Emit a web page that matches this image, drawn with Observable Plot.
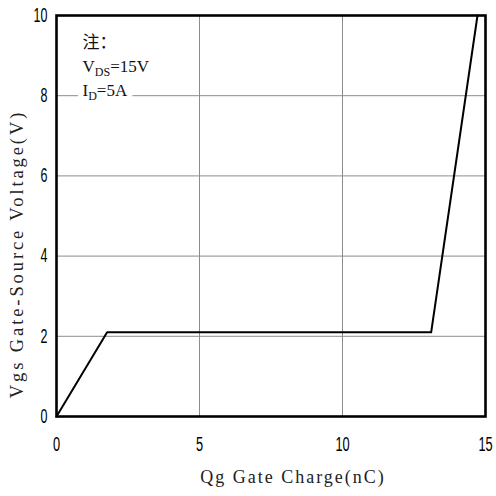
<!DOCTYPE html>
<html>
<head>
<meta charset="utf-8">
<script src="https://cdn.jsdelivr.net/npm/d3@7"></script>
<script src="https://cdn.jsdelivr.net/npm/@observablehq/plot@0.6"></script>
<style>
  html, body { margin: 0; padding: 0; background: #fff; }
</style>
</head>
<body>
<div id="chart"></div>
<script>
// Data
const qg = [0, 1.77, 13.1, 14.72];        // gate charge (nC)
const vgs = [0, 2.1, 2.1, 10];            // gate-source voltage (V)
const xTicks = [0, 5, 10, 15];
const yTicks = [0, 2, 4, 6, 8, 10];
const xGrid = [5, 10];
const yGrid = [2, 4, 6, 8];
const xLabel = "Qg Gate Charge(nC)";
const yLabel = "Vgs Gate-Source Voltage(V)";
const noteLines = ["注：", "V{DS}=15V", "I{D}=5A"];

const curve = qg.map((q, i) => ({q, v: vgs[i]}));
const noteText = noteLines.map(s => s.replace(/[{}]/g, "")).join("\n");

const tickFont = "'Liberation Sans', Arial, sans-serif";
const labelFont = "'Liberation Serif', 'Noto Sans CJK SC', serif";
const noteFont = "'Liberation Serif', 'Noto Sans CJK SC', serif";

const noteOpts = {
  frameAnchor: "top-left", lineAnchor: "top", textAnchor: "start",
  dx: 26, dy: 16, lineHeight: 1.4,
  fontSize: 17, fontFamily: noteFont
};

const plot = Plot.plot({
  width: 496,
  height: 496,
  marginLeft: 56,
  marginRight: 11,
  marginTop: 15,
  marginBottom: 80,
  style: {background: "#fff", color: "#000"},
  x: {domain: [0, 15]},
  y: {domain: [0, 10]},
  marks: [
    Plot.ruleX(xGrid, {stroke: "#8c8c8c", strokeWidth: 1}),
    Plot.ruleY(yGrid, {stroke: "#8c8c8c", strokeWidth: 1}),
    Plot.text([noteText], {...noteOpts, fill: "white", stroke: "white", strokeWidth: 10}),
    Plot.text([noteText], {...noteOpts, fill: "#111"}),
    Plot.line(curve, {x: "q", y: "v", stroke: "#000", strokeWidth: 2}),
    Plot.frame({stroke: "#000", strokeWidth: 2.6}),
    Plot.axisX(xTicks, {tickSize: 0, tickPadding: 20, label: null,
      fontSize: 20, fontFamily: tickFont, fill: "#000"}),
    Plot.axisY(yTicks, {tickSize: 0, tickPadding: 9, label: null,
      fontSize: 19.5, fontFamily: tickFont, fill: "#000"}),
    Plot.text([xLabel], {frameAnchor: "bottom", textAnchor: "middle", dx: 22, dy: 66,
      fontSize: 18, fontFamily: labelFont, fill: "#222"}),
    Plot.text([yLabel], {frameAnchor: "left", textAnchor: "middle", lineAnchor: "middle",
      rotate: -90, dx: -39, dy: 38,
      fontSize: 18.5, fontFamily: labelFont, fill: "#222"})
  ]
});

document.getElementById("chart").appendChild(plot);

const tickSet = new Set([...xTicks, ...yTicks].map(String));
const ns = "http://www.w3.org/2000/svg";
const plain = noteLines.map(s => s.replace(/[{}]/g, ""));

plot.querySelectorAll("text").forEach(el => {
  const s = el.textContent;
  // narrow the tick digits (reference uses a condensed face)
  if (tickSet.has(s) && el.closest('g[aria-label*="tick label"]')) {
    const ax = parseFloat(el.getAttribute("x")) || 0;
    const ay = parseFloat(el.getAttribute("y")) || 0;
    const t = el.getAttribute("transform") || "";
    el.setAttribute("transform", `${t} translate(${ax},${ay}) scale(0.64,1) translate(${-ax},${-ay})`);
  }
  // spaced-out axis titles (half-width monospace look)
  if (s === xLabel) el.style.letterSpacing = "2px";
  if (s === yLabel) el.style.letterSpacing = "2.9px";
});

// subscripts in the note
plot.querySelectorAll("text, tspan").forEach(el => {
  if (el.children.length) return;
  const idx = plain.indexOf(el.textContent);
  if (idx < 0) return;
  const raw = noteLines[idx];
  if (raw.indexOf("{") < 0) return;
  el.textContent = "";
  const parts = raw.split(/(\{[^}]*\})/).filter(p => p.length);
  let shifted = false;
  parts.forEach(p => {
    const t = document.createElementNS(ns, "tspan");
    if (p.startsWith("{")) {
      t.textContent = p.slice(1, -1);
      t.setAttribute("dy", "4");
      t.setAttribute("font-size", "12");
      shifted = true;
    } else {
      t.textContent = p;
      if (shifted) { t.setAttribute("dy", "-4"); shifted = false; }
    }
    el.appendChild(t);
  });
});
</script>
</body>
</html>
